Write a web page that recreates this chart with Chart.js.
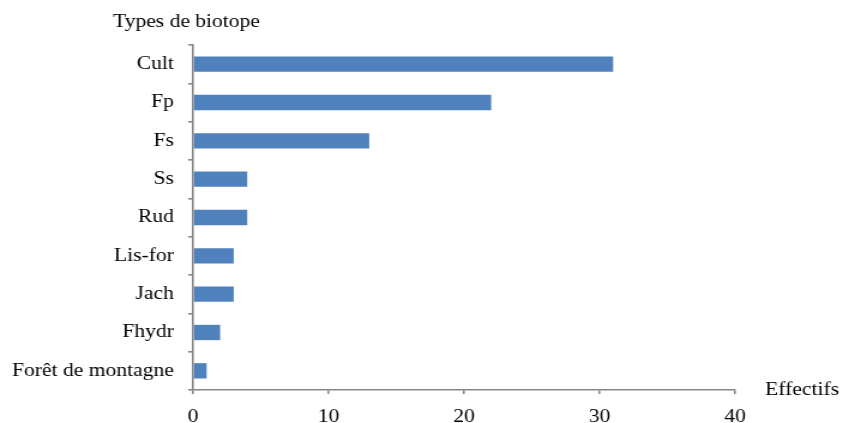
<!DOCTYPE html>
<html>
<head>
<meta charset="utf-8">
<script src="https://cdn.jsdelivr.net/npm/chart.js@4"></script>
<style>
  html, body { margin: 0; padding: 0; background: #fff; overflow: hidden; }
  #c { display: block; width: 843px !important; height: 423px !important; }
</style>
</head>
<body>
<!-- drawn on a narrower canvas and widened by CSS for the wide serif lettering -->
<canvas id="c" width="703" height="423" style="width:843px;height:423px"></canvas>
<script>
const categories = ['Cult', 'Fp', 'Fs', 'Ss', 'Rud', 'Lis-for', 'Jach', 'Fhydr', 'Forêt de montagne'];
const effectifs = [31, 22, 13, 4, 4, 3, 3, 2, 1];
const xTicks = [0, 10, 20, 30, 40];
const yAxisTitle = 'Types de biotope';
const xAxisTitle = 'Effectifs';

const AXIS_GREY = '#868686';
const SERIF = "'Liberation Serif', 'Times New Roman', serif";

// axis titles: one above the category axis, one at the right end of the value axis
const axisTitles = {
  id: 'axisTitles',
  afterDraw(chart) {
    const ctx = chart.ctx;
    const area = chart.chartArea;
    ctx.save();
    ctx.fillStyle = '#000';
    ctx.font = '18px ' + SERIF;
    ctx.textBaseline = 'alphabetic';
    ctx.textAlign = 'center';
    ctx.fillText(yAxisTitle, area.left - 5.5, 27);
    ctx.textAlign = 'left';
    ctx.fillText(xAxisTitle, area.right + 25, 395);
    ctx.restore();
  }
};

new Chart(document.getElementById('c'), {
  type: 'bar',
  data: {
    labels: categories,
    datasets: [{
      data: effectifs,
      backgroundColor: '#4f81bd',
      borderWidth: 0,
      categoryPercentage: 0.8,
      barPercentage: 0.5
    }]
  },
  options: {
    indexAxis: 'y',
    responsive: false,
    devicePixelRatio: 1,
    animation: false,
    layout: { padding: { top: 45, right: 90, bottom: 0, left: 0 } },
    plugins: { legend: { display: false }, tooltip: { enabled: false } },
    scales: {
      x: {
        min: 0,
        max: 40,
        afterBuildTicks(scale) { scale.ticks = xTicks.map(v => ({ value: v })); },
        afterFit(scale) { scale.height = 33; scale.paddingLeft = 0; scale.paddingRight = 0; },
        grid: { drawOnChartArea: false, tickLength: 4, color: AXIS_GREY, lineWidth: 1.6 },
        border: { color: AXIS_GREY, width: 1.6 },
        ticks: { color: '#000', font: { family: SERIF, size: 18 }, padding: 12, maxRotation: 0 }
      },
      y: {
        afterFit(scale) { scale.width = 161; scale.paddingTop = 0; scale.paddingBottom = 0; },
        grid: { drawOnChartArea: false, offset: true, tickLength: 4, color: AXIS_GREY, lineWidth: 1.6 },
        border: { color: AXIS_GREY, width: 1.6 },
        ticks: { color: '#000', font: { family: SERIF, size: 18 }, padding: 12 }
      }
    }
  },
  plugins: [axisTitles]
});
</script>
</body>
</html>
